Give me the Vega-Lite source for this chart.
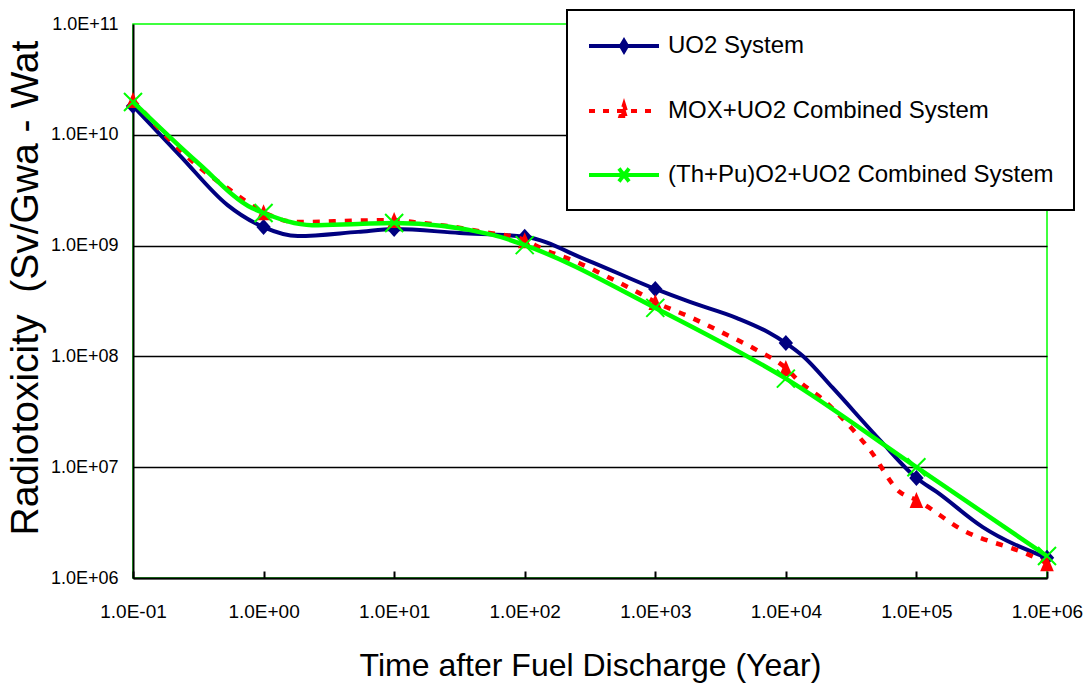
{
  "$schema": "https://vega.github.io/schema/vega-lite/v6.json",
  "width": 914,
  "height": 554,
  "autosize": {"type": "none"},
  "padding": {"left": 133, "top": 24, "right": 41, "bottom": 111},
  "background": "white",
  "config": {
    "view": {"stroke": "#00ff00", "strokeWidth": 1.5},
    "font": "Liberation Sans",
    "axis": {"labelFont": "Liberation Sans", "titleFont": "Liberation Sans", "labelColor": "black", "titleColor": "black", "domainColor": "black", "domainWidth": 2, "titleFontWeight": "normal"},
    "legend": {"orient": "none", "legendX": 434, "legendY": -14, "padding": 20, "fillColor": "white", "strokeColor": "black", "strokeWidth": 2, "labelFont": "Liberation Sans", "labelFontSize": 24, "labelColor": "black", "symbolSize": 784, "symbolStrokeWidth": 4, "rowPadding": 35, "labelOffset": 49, "symbolOpacity": 1, "labelLimit": 0}
  },
  "datasets": {
    "rad": [
      {"series": "UO2 System", "t": 0.1, "v": 1.82e10, "m": true},
      {"series": "UO2 System", "t": 0.229, "v": 6.5e9, "m": false},
      {"series": "UO2 System", "t": 0.53, "v": 2.32e9, "m": false},
      {"series": "UO2 System", "t": 1, "v": 1.47e9, "m": true},
      {"series": "UO2 System", "t": 1.83, "v": 1.22e9, "m": false},
      {"series": "UO2 System", "t": 5.3, "v": 1.33e9, "m": false},
      {"series": "UO2 System", "t": 10, "v": 1.41e9, "m": true},
      {"series": "UO2 System", "t": 31.6, "v": 1.3e9, "m": false},
      {"series": "UO2 System", "t": 100, "v": 1.2e9, "m": true},
      {"series": "UO2 System", "t": 299, "v": 7.4e8, "m": false},
      {"series": "UO2 System", "t": 1000, "v": 4.06e8, "m": true},
      {"series": "UO2 System", "t": 1841, "v": 3.1e8, "m": false},
      {"series": "UO2 System", "t": 4217, "v": 2.22e8, "m": false},
      {"series": "UO2 System", "t": 7278, "v": 1.66e8, "m": false},
      {"series": "UO2 System", "t": 10000, "v": 1.32e8, "m": true},
      {"series": "UO2 System", "t": 13490, "v": 1.01e8, "m": false},
      {"series": "UO2 System", "t": 22900, "v": 5.19e7, "m": false},
      {"series": "UO2 System", "t": 52500, "v": 1.76e7, "m": false},
      {"series": "UO2 System", "t": 100000, "v": 8.0e6, "m": true},
      {"series": "UO2 System", "t": 143000, "v": 5.98e6, "m": false},
      {"series": "UO2 System", "t": 322000, "v": 2.88e6, "m": false},
      {"series": "UO2 System", "t": 1000000, "v": 1.52e6, "m": true},
      {"series": "MOX+UO2 Combined System", "t": 0.1, "v": 2.06e10, "m": true},
      {"series": "MOX+UO2 Combined System", "t": 0.315, "v": 5.2e9, "m": false},
      {"series": "MOX+UO2 Combined System", "t": 0.553, "v": 3.18e9, "m": false},
      {"series": "MOX+UO2 Combined System", "t": 1, "v": 2.0e9, "m": true},
      {"series": "MOX+UO2 Combined System", "t": 1.77, "v": 1.63e9, "m": false},
      {"series": "MOX+UO2 Combined System", "t": 5.3, "v": 1.68e9, "m": false},
      {"series": "MOX+UO2 Combined System", "t": 10, "v": 1.7e9, "m": true},
      {"series": "MOX+UO2 Combined System", "t": 13.9, "v": 1.63e9, "m": false},
      {"series": "MOX+UO2 Combined System", "t": 25.8, "v": 1.5e9, "m": false},
      {"series": "MOX+UO2 Combined System", "t": 47.9, "v": 1.33e9, "m": false},
      {"series": "MOX+UO2 Combined System", "t": 100, "v": 1.12e9, "m": true},
      {"series": "MOX+UO2 Combined System", "t": 138, "v": 9.3e8, "m": false},
      {"series": "MOX+UO2 Combined System", "t": 251, "v": 7.1e8, "m": false},
      {"series": "MOX+UO2 Combined System", "t": 449, "v": 5.1e8, "m": false},
      {"series": "MOX+UO2 Combined System", "t": 803, "v": 3.58e8, "m": false},
      {"series": "MOX+UO2 Combined System", "t": 1000, "v": 3.1e8, "m": true},
      {"series": "MOX+UO2 Combined System", "t": 1841, "v": 2.27e8, "m": false},
      {"series": "MOX+UO2 Combined System", "t": 3296, "v": 1.63e8, "m": false},
      {"series": "MOX+UO2 Combined System", "t": 6000, "v": 1.14e8, "m": false},
      {"series": "MOX+UO2 Combined System", "t": 10000, "v": 7.85e7, "m": true},
      {"series": "MOX+UO2 Combined System", "t": 12800, "v": 5.87e7, "m": false},
      {"series": "MOX+UO2 Combined System", "t": 18200, "v": 4.3e7, "m": false},
      {"series": "MOX+UO2 Combined System", "t": 29300, "v": 2.5e7, "m": false},
      {"series": "MOX+UO2 Combined System", "t": 44000, "v": 1.43e7, "m": false},
      {"series": "MOX+UO2 Combined System", "t": 74600, "v": 5.97e6, "m": false},
      {"series": "MOX+UO2 Combined System", "t": 100000, "v": 5.06e6, "m": true},
      {"series": "MOX+UO2 Combined System", "t": 226000, "v": 2.71e6, "m": false},
      {"series": "MOX+UO2 Combined System", "t": 738000, "v": 1.61e6, "m": false},
      {"series": "MOX+UO2 Combined System", "t": 1000000, "v": 1.36e6, "m": true},
      {"series": "(Th+Pu)O2+UO2 Combined System", "t": 0.1, "v": 1.98e10, "m": true},
      {"series": "(Th+Pu)O2+UO2 Combined System", "t": 0.315, "v": 5.56e9, "m": false},
      {"series": "(Th+Pu)O2+UO2 Combined System", "t": 0.815, "v": 2.18e9, "m": false},
      {"series": "(Th+Pu)O2+UO2 Combined System", "t": 1, "v": 1.97e9, "m": true},
      {"series": "(Th+Pu)O2+UO2 Combined System", "t": 2.35, "v": 1.53e9, "m": false},
      {"series": "(Th+Pu)O2+UO2 Combined System", "t": 5.3, "v": 1.57e9, "m": false},
      {"series": "(Th+Pu)O2+UO2 Combined System", "t": 10, "v": 1.6e9, "m": true},
      {"series": "(Th+Pu)O2+UO2 Combined System", "t": 57, "v": 1.25e9, "m": false},
      {"series": "(Th+Pu)O2+UO2 Combined System", "t": 100, "v": 1.01e9, "m": true},
      {"series": "(Th+Pu)O2+UO2 Combined System", "t": 1000, "v": 2.74e8, "m": true},
      {"series": "(Th+Pu)O2+UO2 Combined System", "t": 10000, "v": 6.3e7, "m": true},
      {"series": "(Th+Pu)O2+UO2 Combined System", "t": 100000, "v": 1.0e7, "m": true},
      {"series": "(Th+Pu)O2+UO2 Combined System", "t": 1000000, "v": 1.58e6, "m": true}
    ]
  },
  "data": {"name": "rad"},
  "encoding": {
    "x": {
      "field": "t", "type": "quantitative",
      "scale": {"type": "log", "domain": [0.1, 1000000], "nice": false},
      "axis": {
        "values": [0.1, 1, 10, 100, 1000, 10000, 100000, 1000000],
        "labelExpr": "'1.0E' + (datum.value < 1 ? '-' : '+') + '0' + abs(round(log(datum.value) / LN10))",
        "grid": false, "ticks": true, "tickSize": -7, "tickWidth": 2, "tickColor": "black",
        "labelFontSize": 19, "labelPadding": 31, "labelFlush": false, "labelOverlap": false,
        "title": "Time after Fuel Discharge (Year)", "titleFontSize": 32, "titleY": 97, "titleBaseline": "alphabetic"
      }
    },
    "y": {
      "field": "v", "type": "quantitative",
      "scale": {"type": "log", "domain": [1000000, 100000000000], "nice": false},
      "axis": {
        "values": [1000000, 10000000, 100000000, 1000000000, 10000000000, 100000000000],
        "labelExpr": "'1.0E+' + (round(log(datum.value) / LN10) < 10 ? '0' : '') + round(log(datum.value) / LN10)",
        "grid": true, "gridColor": "black", "gridWidth": 1.5,
        "gridOpacity": {"condition": {"test": "datum.value > 50000000000", "value": 0}, "value": 1},
        "ticks": false, "labelFontSize": 18, "labelPadding": 15, "labelFlush": false, "labelOverlap": false,
        "title": "Radiotoxicity\u00a0 (Sv/Gwa - Wat", "titleFontSize": 39, "titleAngle": 270,
        "titleAlign": "left", "titleBaseline": "alphabetic", "titleX": -96, "titleY": 511
      }
    }
  },
  "layer": [
    {
      "transform": [{"filter": "datum.series === 'UO2 System'"}],
      "mark": {"type": "line", "color": "#000080", "strokeWidth": 4, "interpolate": "monotone"}
    },
    {
      "transform": [{"filter": "datum.series === 'UO2 System' && datum.m"}],
      "mark": {"type": "point", "shape": "M0,-1L0.9,0L0,1L-0.9,0Z", "filled": true, "color": "#000080", "size": 256, "opacity": 1}
    },
    {
      "transform": [{"filter": "datum.series === 'MOX+UO2 Combined System'"}],
      "mark": {"type": "line", "color": "#ff0000", "strokeWidth": 4.5, "strokeDash": [7, 9], "interpolate": "monotone"}
    },
    {
      "transform": [{"filter": "datum.series === 'MOX+UO2 Combined System' && datum.m"}],
      "mark": {"type": "point", "shape": "M0,-1L0.85,1L-0.85,1Z", "filled": true, "color": "#ff0000", "size": 256, "opacity": 1}
    },
    {
      "transform": [{"filter": "datum.series === '(Th+Pu)O2+UO2 Combined System'"}],
      "mark": {"type": "line", "color": "#00ff00", "strokeWidth": 4.5, "interpolate": "monotone"}
    },
    {
      "transform": [{"filter": "datum.series === '(Th+Pu)O2+UO2 Combined System' && datum.m"}],
      "mark": {"type": "point", "shape": "M-1,-1L1,1M-1,1L1,-1", "filled": false, "color": "#00ff00", "strokeWidth": 2, "size": 324, "opacity": 1}
    },
    {
      "transform": [{"filter": "datum.m"}],
      "mark": {"type": "point", "filled": true, "opacity": 0, "size": 784, "strokeWidth": 4},
      "encoding": {
        "shape": {
          "field": "series", "type": "nominal",
          "scale": {
            "domain": ["UO2 System", "MOX+UO2 Combined System", "(Th+Pu)O2+UO2 Combined System"],
            "range": ["M-1,0L4,0M1.5,-0.36L1.72,0L1.5,0.36L1.28,0Z", "M-1,0L4,0M1.5,-0.45L1.75,0.35L1.25,0.35Z", "M-1,0L4,0M1.14,-0.46L1.86,0.46M1.14,0.46L1.86,-0.46"]
          },
          "legend": {"title": null}
        },
        "fill": {
          "field": "series", "type": "nominal",
          "scale": {"domain": ["UO2 System", "MOX+UO2 Combined System", "(Th+Pu)O2+UO2 Combined System"], "range": ["#000080", "#ff0000", "#00ff00"]},
          "legend": {"title": null}
        },
        "stroke": {
          "field": "series", "type": "nominal",
          "scale": {"domain": ["UO2 System", "MOX+UO2 Combined System", "(Th+Pu)O2+UO2 Combined System"], "range": ["#000080", "#ff0000", "#00ff00"]},
          "legend": {"title": null}
        },
        "strokeDash": {
          "field": "series", "type": "nominal",
          "scale": {"domain": ["UO2 System", "MOX+UO2 Combined System", "(Th+Pu)O2+UO2 Combined System"], "range": [[1, 0], [6, 8], [1, 0]]},
          "legend": {"title": null}
        }
      }
    }
  ]
}
